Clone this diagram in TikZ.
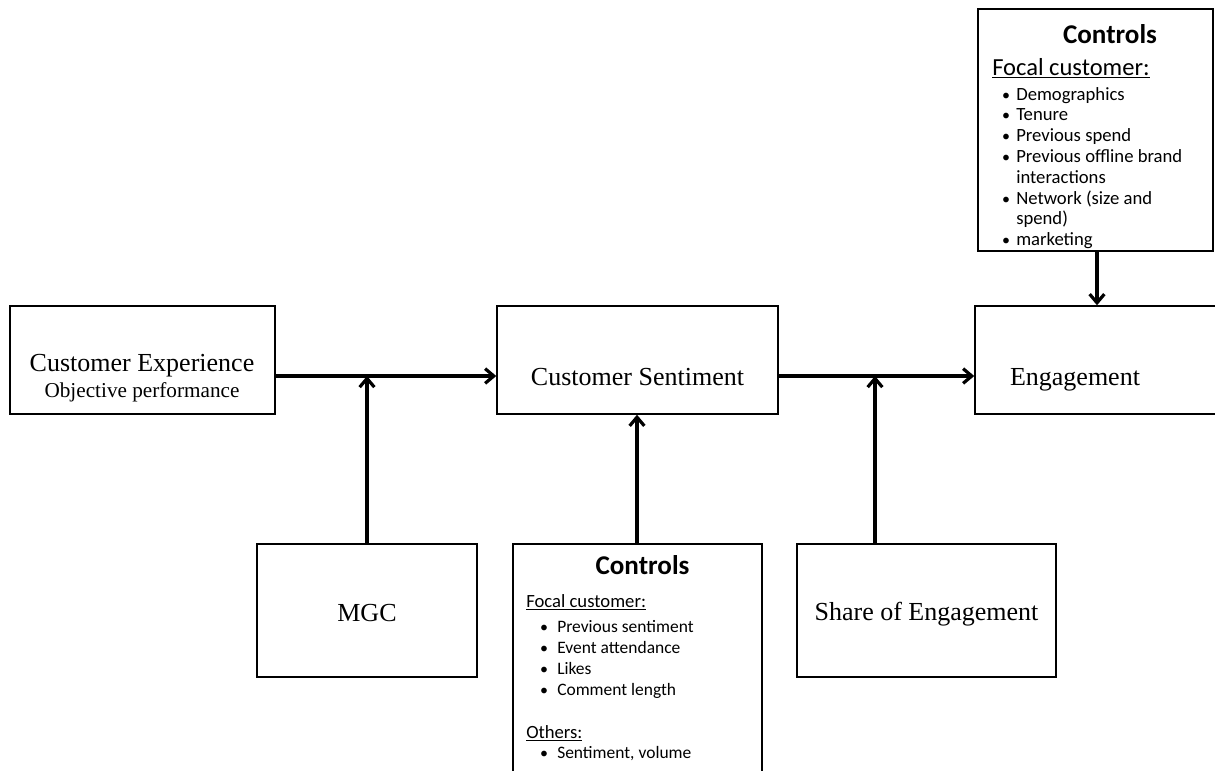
\documentclass[tikz,border=0pt]{standalone}
\usepackage{fontspec}
\setmainfont{Liberation Serif}
\newfontfamily\calib{Carlito}
\usetikzlibrary{arrows.meta,fit}
\begin{document}
\begin{tikzpicture}[x=0.75pt,y=-0.75pt,
  box/.style={draw, line width=1.1pt, inner sep=0pt},
  conn/.style={draw, line width=2.4pt, -{Straight Barb[length=6.5pt,width=11pt]}},
  big/.style={font=\fontsize{19.5}{23}\selectfont, inner sep=0pt},
  sub/.style={font=\fontsize{15.9}{19}\selectfont, inner sep=0pt},
  head/.style={font=\calib\bfseries\fontsize{20.3}{24}\selectfont, inner sep=0pt, anchor=base},
  focA/.style={font=\calib\fontsize{18.4}{22}\selectfont, inner sep=0pt, anchor=base west},
  itmA/.style={font=\calib\fontsize{14}{16}\selectfont, inner sep=0pt, anchor=base west},
  dotA/.style={font=\calib\fontsize{12}{16}\selectfont, inner sep=0pt, anchor=base},
  focB/.style={font=\calib\fontsize{14}{17}\selectfont, inner sep=0pt, anchor=base west},
  itmB/.style={font=\calib\fontsize{13.1}{16}\selectfont, inner sep=0pt, anchor=base west},
  dotB/.style={font=\calib\fontsize{12}{16}\selectfont, inner sep=0pt, anchor=base},
]
\useasboundingbox (0,0) rectangle (1215,771);
\clip (0,0) rectangle (1215,771);

% main chain
\node[box, fit={(10,306) (275,414)}] (ce) {};
\node[box, fit={(497,306) (778,414)}] (cs) {};
\node[box, fit={(975,306) (1218,414)}] (eng) {};
% moderators and controls
\node[box, fit={(257,544) (477,677)}] (mgc) {};
\node[box, fit={(513,544) (762,800)}] (ctlB) {};
\node[box, fit={(797,544) (1056,677)}] (soe) {};
\node[box, fit={(978,9) (1213,251)}] (ctlA) {};

% box labels
\node[big, anchor=base] (ceT) at (142,371) {Customer Experience};
\node[sub, anchor=base] (ceS) at (142,397) {Objective performance};
\node[big, anchor=base] (csT) at (637.5,385) {Customer Sentiment};
\node[big, anchor=base] (engT) at (1075,385) {Engagement};
\node[big, anchor=base] (mgcT) at (367,621) {MGC};
\node[big, anchor=base] (soeT) at (926.5,620) {Share of Engagement};

% controls for engagement
\node[head] (ctlAh) at (1110,43) {Controls};
\node[focA] (ctlAf) at (992,75) {\underline{Focal customer:}};
\foreach \t [count=\i from 0] in {Demographics, Tenure, Previous spend,
    Previous offline brand, interactions, Network (size and, spend), marketing}{
  \node[itmA] (ctlAi\i) at (1016,{100+20.8*\i}) {\t};
}
\foreach \i in {0,1,2,3,5,7}{
  \node[dotA] (ctlAb\i) at (1006,{100+20.8*\i}) {•};
}

% controls for sentiment
\node[head] (ctlBh) at (642.5,574) {Controls};
\node[focB] (ctlBf) at (526,607) {\underline{Focal customer:}};
\foreach \t [count=\i from 0] in {Previous sentiment, Event attendance, Likes, Comment length}{
  \node[itmB] (ctlBi\i) at (557,{632+21*\i}) {\t};
  \node[dotB] (ctlBb\i) at (544,{632+21*\i}) {•};
}
\node[focB] (ctlBo) at (526,738) {\underline{Others:}};
\node[itmB] (ctlBs) at (557,758) {Sentiment, volume};
\node[dotB] (ctlBsb) at (544,758) {•};

% arrows
\coordinate (row) at (0,376);
\coordinate (midX) at (637,0);
\coordinate (soeX) at (875,0);
\coordinate (engX) at (1097,0);
\coordinate (ceR) at (ce.east |- row);
\coordinate (csL) at (cs.west |- row);
\coordinate (csR) at (cs.east |- row);
\coordinate (engL) at (eng.west |- row);
\coordinate (mgcJ) at (mgc.north |- row);
\coordinate (ctlBT) at (midX |- ctlB.north);
\coordinate (csB) at (midX |- cs.south);
\coordinate (soeB) at (soeX |- soe.north);
\coordinate (soeJ) at (soeX |- row);
\coordinate (ctlAB) at (engX |- ctlA.south);
\coordinate (engTop) at (engX |- eng.north);
\path[conn] (ceR) -- (csL);
\path[conn] (csR) -- (engL);
\path[conn] (mgc.north) -- (mgcJ);
\path[conn] (ctlBT) -- (csB);
\path[conn] (soeB) -- (soeJ);
\path[conn] (ctlAB) -- (engTop);
\end{tikzpicture}
\end{document}
